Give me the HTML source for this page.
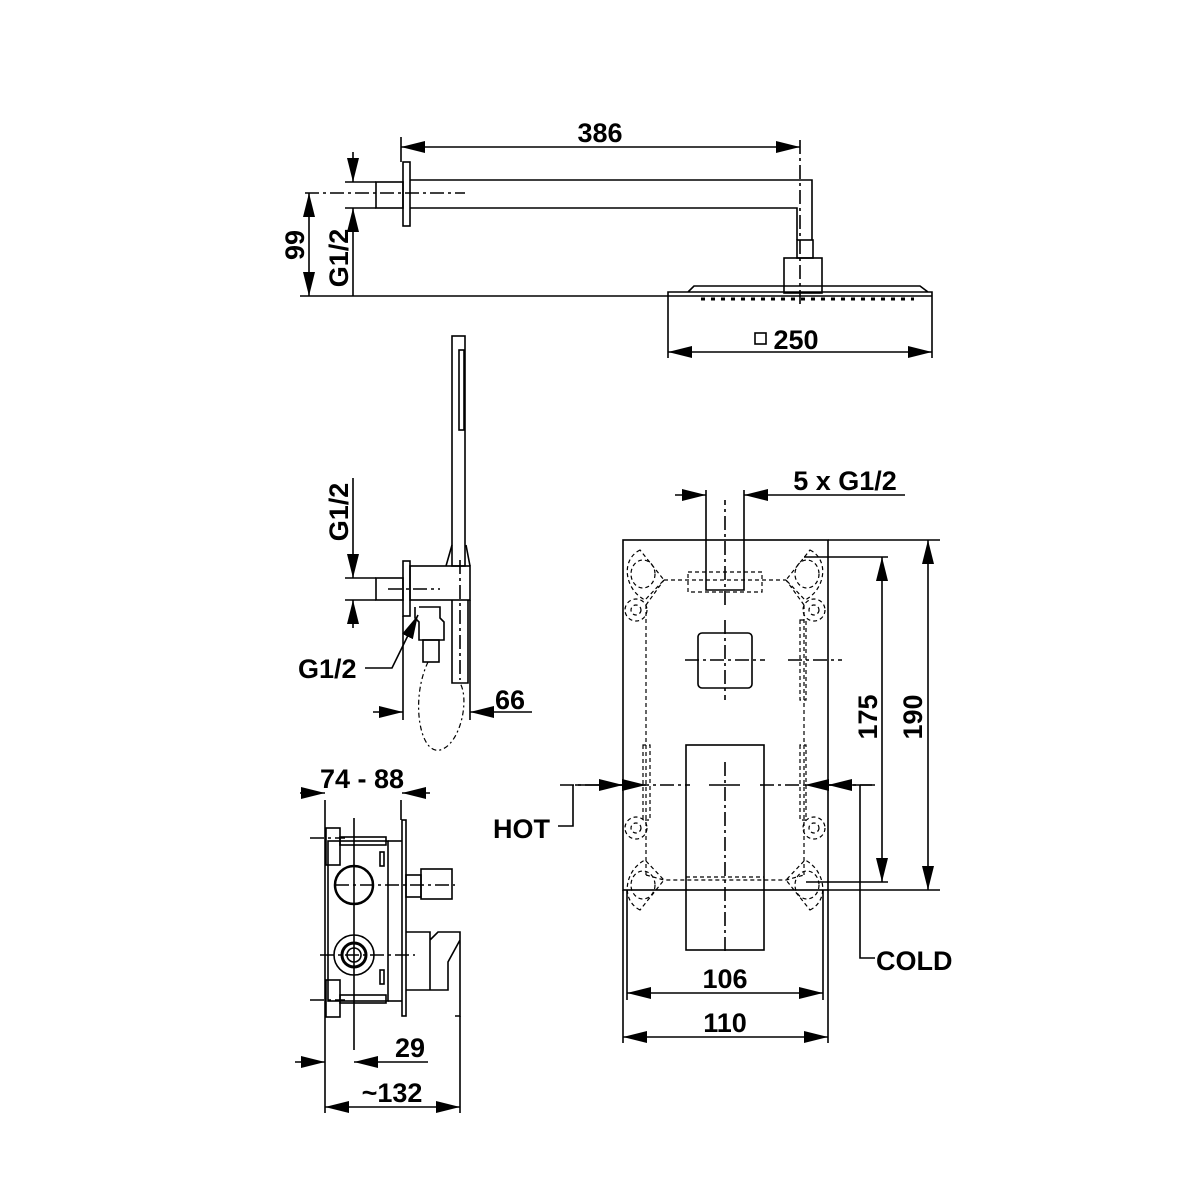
<!DOCTYPE html>
<html><head><meta charset="utf-8"><style>
html,body{margin:0;padding:0;background:#fff}
svg{display:block}
text{font-family:"Liberation Sans",Arial,sans-serif;font-size:27px;font-weight:bold;fill:#000}
</style></head><body>
<svg width="1200" height="1200" viewBox="0 0 1200 1200" xmlns="http://www.w3.org/2000/svg">
<defs>
<marker id="a" markerWidth="24" markerHeight="12" refX="24" refY="6" orient="auto-start-reverse" markerUnits="userSpaceOnUse"><path d="M0,0 L24,6 L0,12z" fill="#000"/></marker>
</defs>
<g fill="none" stroke="#000" stroke-width="1.6">
<line x1="401" y1="147" x2="800" y2="147" marker-start="url(#a)" marker-end="url(#a)"/>
<line x1="401" y1="137" x2="401" y2="162"/>
<line x1="800" y1="140" x2="800" y2="305" stroke-dasharray="14,4,3,4"/>
<rect x="403" y="162" width="7" height="64"/>
<rect x="376" y="182" width="27" height="26"/>
<line x1="305" y1="193" x2="465" y2="193" stroke-dasharray="14,4,3,4"/>
<path d="M410,180 H812 V240 M410,208 H797 V240"/>
<rect x="797" y="240" width="16" height="18"/>
<rect x="784" y="258" width="38" height="35"/>
<path d="M668,296 V292 H932 V296 M688,292 L694,286 H920 L928,292"/>
<g stroke-width="3" stroke-dasharray="4,6"><line x1="701" y1="299" x2="914" y2="299"/></g>
<line x1="309" y1="193" x2="309" y2="296" marker-start="url(#a)" marker-end="url(#a)"/>
<line x1="300" y1="296" x2="932" y2="296"/>
<line x1="353" y1="152" x2="353" y2="182" marker-end="url(#a)"/>
<line x1="353" y1="296" x2="353" y2="208" marker-end="url(#a)"/>
<line x1="345" y1="182" x2="376" y2="182"/>
<line x1="345" y1="208" x2="376" y2="208"/>
<line x1="668" y1="352" x2="932" y2="352" marker-start="url(#a)" marker-end="url(#a)"/>
<line x1="668" y1="296" x2="668" y2="358"/>
<line x1="932" y1="296" x2="932" y2="358"/>
<rect x="755" y="333" width="11" height="11"/>

<rect x="452" y="336" width="13" height="230"/>
<rect x="459" y="350" width="5" height="80"/>
<path d="M446,566 L452,545 M470,566 L466,545"/>
<rect x="410" y="566" width="60" height="34"/>
<rect x="403" y="561" width="7" height="55"/>
<rect x="376" y="578" width="27" height="22"/>
<line x1="388" y1="589" x2="440" y2="589" stroke-dasharray="14,4,3,4"/>
<path d="M452,600 V683 H468 V600"/>
<line x1="460" y1="560" x2="460" y2="680" stroke-dasharray="14,4,3,4"/>
<path d="M419,607 H440 V618 L444,622 V640 H419 V622 L415,618 V607"/>
<rect x="423" y="640" width="16" height="22"/>
<path d="M428,662 C410,700 420,755 440,750 C460,745 470,700 460,683" stroke-dasharray="5,3,2,3" stroke-width="1.2"/>
<line x1="353" y1="478" x2="353" y2="578" marker-end="url(#a)"/>
<line x1="353" y1="628" x2="353" y2="600" marker-end="url(#a)"/>
<line x1="345" y1="578" x2="376" y2="578"/>
<line x1="345" y1="600" x2="376" y2="600"/>
<path d="M365,668 H392 L418,615" marker-end="url(#a)"/>
<line x1="403" y1="616" x2="403" y2="720"/>
<line x1="470" y1="600" x2="470" y2="720"/>
<line x1="373" y1="712" x2="403" y2="712" marker-end="url(#a)"/>
<line x1="532" y1="712" x2="470" y2="712" marker-end="url(#a)"/>

<line x1="300" y1="793" x2="325" y2="793" marker-end="url(#a)"/>
<line x1="430" y1="793" x2="402" y2="793" marker-end="url(#a)"/>
<line x1="325" y1="800" x2="325" y2="1113"/>
<line x1="401" y1="800" x2="401" y2="820"/>
<rect x="402" y="820" width="4" height="196"/>
<rect x="328" y="841" width="60" height="160"/>
<line x1="388" y1="841" x2="402" y2="841"/>
<line x1="388" y1="1001" x2="402" y2="1001"/>
<rect x="326" y="828" width="14" height="37"/>
<rect x="340" y="837" width="46" height="8"/>
<rect x="326" y="980" width="14" height="37"/>
<rect x="340" y="995" width="46" height="8"/>
<rect x="380" y="852" width="4" height="14"/>
<rect x="380" y="970" width="4" height="14"/>
<line x1="310" y1="838" x2="345" y2="838" stroke-dasharray="14,4,3,4"/>
<line x1="310" y1="1000" x2="345" y2="1000" stroke-dasharray="14,4,3,4"/>
<circle cx="354" cy="885" r="19" stroke-width="2.5"/>
<circle cx="354" cy="955" r="20"/>
<circle cx="354" cy="955" r="12" stroke-width="3"/>
<circle cx="354" cy="955" r="7"/>
<line x1="354" y1="818" x2="354" y2="1050"/>
<line x1="320" y1="955" x2="415" y2="955" stroke-dasharray="14,4,3,4"/>
<line x1="335" y1="885" x2="455" y2="885" stroke-dasharray="14,4,3,4"/>
<rect x="406" y="875" width="15" height="22"/>
<rect x="421" y="869" width="31" height="30"/>
<path d="M406,932 H430 V990 H406 M430,940 L438,932 H460 V1016 H455 M430,990 H448 L448,962 L460,940"/>
<line x1="460" y1="1016" x2="460" y2="1113"/>
<line x1="295" y1="1062" x2="325" y2="1062" marker-end="url(#a)"/>
<line x1="428" y1="1062" x2="354" y2="1062" marker-end="url(#a)"/>
<line x1="325" y1="1107" x2="460" y2="1107" marker-start="url(#a)" marker-end="url(#a)"/>

<rect x="623" y="540" width="205" height="350"/>
<line x1="623" y1="890" x2="623" y2="1043"/>
<line x1="828" y1="890" x2="828" y2="1043"/>
<line x1="627" y1="890" x2="627" y2="1000"/>
<line x1="823" y1="890" x2="823" y2="1000"/>
<rect x="686" y="745" width="78" height="205"/>
<rect x="698" y="633" width="54" height="55" rx="4"/>
<path d="M706,490 V590 H744 V490"/>
<g stroke-dasharray="14,4,3,4">
<line x1="725" y1="620" x2="725" y2="700"/>
<line x1="685" y1="660" x2="765" y2="660"/>
<line x1="788" y1="660" x2="842" y2="660"/>
<line x1="725" y1="762" x2="725" y2="955"/>
<line x1="560" y1="785" x2="690" y2="785"/>
<line x1="760" y1="785" x2="872" y2="785"/>
<line x1="725" y1="605" x2="725" y2="500"/>
</g>
<line x1="709" y1="785" x2="740" y2="785"/>
<g stroke-dasharray="4,3" stroke-width="1.2">
<path d="M646,605 V875 M646,605 L664,580 M804,605 V875 M804,605 L786,580"/>
<path d="M664,580 H786 M688,572 H762 V592 H688Z"/>
<path d="M646,875 L664,880 H786 L804,875 M686,877 H764"/>
<path d="M640,550 C620,560 625,590 645,600 L664,580 Z"/>
<ellipse cx="643" cy="574" rx="12" ry="14"/>
<path d="M810,550 C830,560 825,590 805,600 L786,580 Z"/>
<ellipse cx="807" cy="574" rx="12" ry="14"/>
<path d="M640,910 C620,900 625,870 645,860 L664,880 Z"/>
<ellipse cx="643" cy="885" rx="12" ry="14"/>
<path d="M810,910 C830,900 825,870 805,860 L786,880 Z"/>
<ellipse cx="807" cy="885" rx="12" ry="14"/>
<circle cx="636" cy="610" r="11"/><circle cx="636" cy="610" r="5"/>
<circle cx="814" cy="610" r="11"/><circle cx="814" cy="610" r="5"/>
<circle cx="636" cy="828" r="11"/><circle cx="636" cy="828" r="5"/>
<circle cx="814" cy="828" r="11"/><circle cx="814" cy="828" r="5"/>
<path d="M643,745 V820 H650 V745Z M800,620 V700 H806 V620Z M800,745 V820 H806 V745Z"/>
</g>
<line x1="675" y1="495" x2="706" y2="495" marker-end="url(#a)"/>
<line x1="905" y1="495" x2="744" y2="495" marker-end="url(#a)"/>
<line x1="828" y1="540" x2="940" y2="540"/>
<line x1="828" y1="890" x2="940" y2="890"/>
<line x1="804" y1="557" x2="888" y2="557"/>
<line x1="806" y1="882" x2="888" y2="882"/>
<line x1="882" y1="557" x2="882" y2="882" marker-start="url(#a)" marker-end="url(#a)"/>
<line x1="928" y1="540" x2="928" y2="890" marker-start="url(#a)" marker-end="url(#a)"/>
<line x1="575" y1="785" x2="623" y2="785" marker-end="url(#a)"/>
<line x1="600" y1="785" x2="646" y2="785" marker-end="url(#a)"/>
<line x1="875" y1="785" x2="828" y2="785" marker-end="url(#a)"/>
<line x1="850" y1="785" x2="805" y2="785" marker-end="url(#a)"/>
<path d="M573,785 V826 H558"/>
<path d="M860,785 V958 H875"/>
<line x1="627" y1="993" x2="823" y2="993" marker-start="url(#a)" marker-end="url(#a)"/>
<line x1="623" y1="1037" x2="828" y2="1037" marker-start="url(#a)" marker-end="url(#a)"/>
</g>

<text x="600" y="142" text-anchor="middle">386</text>
<text x="796" y="349" text-anchor="middle">250</text>
<text transform="translate(304,245) rotate(-90)" text-anchor="middle">99</text>
<text transform="translate(348,258) rotate(-90)" text-anchor="middle">G1/2</text>
<text transform="translate(348,512) rotate(-90)" text-anchor="middle">G1/2</text>
<text x="298" y="678">G1/2</text>
<text x="510" y="709" text-anchor="middle">66</text>
<text x="362" y="788" text-anchor="middle">74 - 88</text>
<text x="410" y="1057" text-anchor="middle">29</text>
<text x="392" y="1102" text-anchor="middle">~132</text>
<text x="845" y="490" text-anchor="middle">5 x G1/2</text>
<text transform="translate(877,717) rotate(-90)" text-anchor="middle">175</text>
<text transform="translate(922,717) rotate(-90)" text-anchor="middle">190</text>
<text x="493" y="838">HOT</text>
<text x="876" y="970">COLD</text>
<text x="725" y="988" text-anchor="middle">106</text>
<text x="725" y="1032" text-anchor="middle">110</text>
</svg>
</body></html>
